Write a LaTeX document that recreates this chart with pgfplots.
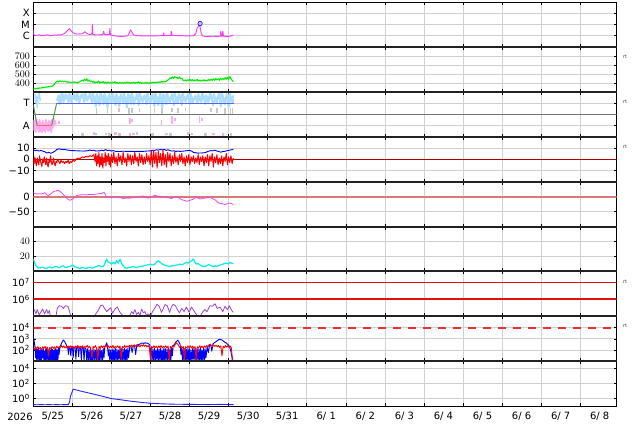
\documentclass[border=0pt]{standalone}
\usepackage{fontspec}
\setmainfont{DejaVu Sans}
\usepackage{pgfplots}
\pgfplotsset{compat=1.18}
\definecolor{gridgray}{HTML}{D0D0D0}
\definecolor{xmag}{HTML}{FF33FF}
\definecolor{swgreen}{HTML}{00EE00}
\definecolor{lblue}{HTML}{AADDFF}
\definecolor{lpink}{HTML}{FFAAEE}
\definecolor{lgray}{HTML}{C8C8C8}
\definecolor{secblue}{HTML}{5566EE}
\definecolor{secgreen}{HTML}{559955}
\definecolor{secred}{HTML}{FF6666}
\definecolor{dstmag}{HTML}{EE44EE}
\definecolor{salmon}{HTML}{D87878}
\definecolor{dcyan}{HTML}{00EEEE}
\definecolor{purp}{HTML}{A040D0}
\definecolor{darkred}{HTML}{AA0000}
\definecolor{refred}{HTML}{E01010}
\definecolor{dashred}{HTML}{E83030}
\definecolor{pblue}{HTML}{0000FF}
\definecolor{pred}{HTML}{FF0000}
\definecolor{sepgray}{HTML}{222222}
\pgfplotsset{
  panel/.style={
    scale only axis, width=583.2pt, height=44.9pt,
    anchor=south west,
    xmin=0, xmax=14.93,
    xtick={1,...,14}, xticklabels={},
    xmajorgrids, ymajorgrids,
    grid style={color=gridgray, line width=0.6pt},
    tick align=inside, major tick length=3pt,
    tick style={black, line width=0.5pt},
    axis line style={line width=0.6pt, black},
    yminorticks=false,
    clip mode=individual,
    unbounded coords=jump,
    yticklabel style={font=\fontsize{10}{12}\selectfont},
    every axis plot/.append style={line join=round},
  }
}
\begin{document}
\begin{tikzpicture}
\useasboundingbox (0pt,0pt) rectangle (634pt,424pt);

% ---------- Panel 1: X-ray ----------
\begin{axis}[panel, at={(33.3pt,377.1pt)},
  ymode=log, ymin=1e-7, ymax=1e-3,
  ytick={1e-6,1e-5,1e-4}, yticklabels={C,M,X}]
\addplot[xmag, line width=0.9pt] coordinates {
(0.00,3.3e-6)(0.01,1.2e-6)(0.05,1.05e-6)(0.10,1.1e-6)(0.15,1.2e-6)(0.20,1.0e-6)(0.25,1.1e-6)(0.30,1.05e-6)(0.35,1.2e-6)(0.40,1.1e-6)(0.45,1.0e-6)(0.50,1.1e-6)(0.55,1.15e-6)(0.60,1.1e-6)(0.65,1.2e-6)(0.70,1.15e-6)(0.75,1.3e-6)(0.80,1.6e-6)(0.85,2.3e-6)(0.90,3.5e-6)(0.93,4.2e-6)(0.97,2.6e-6)(1.02,1.8e-6)(1.07,1.5e-6)(1.12,1.4e-6)(1.18,1.45e-6)(1.24,1.4e-6)(1.28,1.7e-6)(1.32,2.3e-6)(1.35,1.8e-6)(1.40,1.4e-6)(1.45,1.3e-6)(1.50,1.4e-6)(1.51,9.7e-6)(1.525,1.3e-6)(1.60,1.2e-6)(1.70,1.2e-6)(1.78,1.25e-6)(1.80,2.5e-6)(1.82,1.3e-6)(1.90,1.25e-6)(1.95,1.3e-6)(1.96,4.5e-6)(1.975,1.2e-6)(2.05,1.0e-6)(2.15,0.9e-6)(2.25,0.85e-6)(2.35,0.9e-6)(2.42,1.0e-6)(2.46,1.8e-6)(2.49,3.3e-6)(2.52,2.2e-6)(2.56,1.2e-6)(2.65,1.0e-6)(2.80,0.95e-6)(2.95,0.95e-6)(3.10,0.95e-6)(3.25,1.0e-6)(3.33,1.0e-6)(3.34,1.8e-6)(3.35,1.0e-6)(3.45,1.0e-6)(3.52,1.05e-6)(3.53,2.5e-6)(3.55,1.1e-6)(3.65,1.0e-6)(3.80,1.0e-6)(3.95,0.95e-6)(4.10,1.0e-6)(4.16,1.5e-6)(4.19,4.2e-6)(4.22,6.5e-6)(4.25,8.5e-6)(4.27,6e-6)(4.30,1.5e-6)(4.33,1.0e-6)(4.40,0.85e-6)(4.50,0.85e-6)(4.60,0.9e-6)(4.70,0.85e-6)(4.79,0.9e-6)(4.80,2.5e-6)(4.82,0.9e-6)(4.84,0.9e-6)(4.85,2.5e-6)(4.87,0.9e-6)(4.95,0.85e-6)(5.05,0.9e-6)(5.09,1.1e-6)(5.12,1.0e-6)
};
\addplot[only marks, mark=*, mark size=2.2pt, mark options={draw=blue, fill=blue!20, line width=0.6pt}] coordinates {(4.27,1.2e-5)};
\end{axis}

% ---------- Panel 2: speed ----------
\begin{axis}[panel, at={(33.3pt,332.2pt)},
  ymin=300, ymax=800, ytick={400,500,600,700}]
\addplot[swgreen, line width=1.1pt] coordinates {
(0.00,330)(0.03,338)(0.06,333)(0.09,340)(0.12,336)(0.15,343)(0.18,340)(0.21,346)(0.24,344)(0.27,350)(0.30,348)(0.33,355)(0.36,352)(0.39,358)(0.42,356)(0.45,362)(0.48,360)(0.50,368)(0.53,380)(0.56,395)(0.59,412)(0.62,418)(0.65,410)(0.68,422)(0.71,415)(0.74,420)(0.77,412)(0.80,418)(0.83,410)(0.86,414)(0.89,405)(0.92,410)(0.95,404)(0.98,408)(1.01,402)(1.04,410)(1.07,404)(1.10,408)(1.13,400)(1.16,406)(1.19,412)(1.22,420)(1.25,430)(1.28,418)(1.31,440)(1.34,425)(1.37,445)(1.40,420)(1.43,432)(1.46,412)(1.49,420)(1.52,405)(1.55,415)(1.58,398)(1.61,412)(1.64,402)(1.67,420)(1.70,398)(1.73,410)(1.76,400)(1.79,415)(1.82,396)(1.85,408)(1.88,395)(1.91,410)(1.94,398)(1.97,405)(2.00,395)(2.03,408)(2.06,398)(2.09,412)(2.12,396)(2.15,405)(2.18,393)(2.21,402)(2.24,395)(2.27,404)(2.30,392)(2.33,406)(2.36,396)(2.39,410)(2.42,398)(2.45,405)(2.48,392)(2.51,402)(2.54,396)(2.57,408)(2.60,394)(2.63,404)(2.66,398)(2.69,412)(2.72,396)(2.75,405)(2.78,392)(2.81,400)(2.84,394)(2.87,404)(2.90,396)(2.93,402)(2.96,390)(2.99,402)(3.02,396)(3.05,408)(3.08,398)(3.11,406)(3.14,400)(3.17,410)(3.20,402)(3.23,412)(3.26,405)(3.29,415)(3.32,408)(3.35,418)(3.38,410)(3.41,420)(3.44,428)(3.47,440)(3.50,455)(3.53,448)(3.56,465)(3.59,450)(3.62,470)(3.65,455)(3.68,462)(3.71,448)(3.74,465)(3.77,445)(3.80,452)(3.83,430)(3.86,422)(3.89,432)(3.92,420)(3.95,435)(3.98,425)(4.01,440)(4.04,422)(4.07,436)(4.10,420)(4.13,432)(4.16,424)(4.19,438)(4.22,420)(4.25,430)(4.28,418)(4.31,428)(4.34,422)(4.37,434)(4.40,420)(4.43,430)(4.46,422)(4.49,438)(4.52,425)(4.55,440)(4.58,428)(4.61,445)(4.64,430)(4.67,448)(4.70,432)(4.73,445)(4.76,428)(4.79,452)(4.82,435)(4.85,450)(4.88,438)(4.91,458)(4.94,440)(4.97,462)(5.00,442)(5.03,470)(5.06,445)(5.09,428)(5.12,412)
};
\end{axis}

% ---------- Panel 3: sector T/A ----------
\begin{axis}[panel, at={(33.3pt,287.3pt)},
  ymin=-2, ymax=2, ytick={-1,1}, yticklabels={A,T}]
\addplot[lgray, line width=1.6pt] coordinates {
(1.62,0.6)(1.62,0.0)(1.62,nan)(1.90,0.6)(1.90,0.1)(1.90,nan)(2.20,0.6)(2.20,0.2)(2.20,nan)(2.45,0.6)(2.45,-0.1)(2.45,nan)(2.52,0.6)(2.52,0.1)(2.52,nan)(2.72,0.6)(2.72,0.2)(2.72,nan)(3.10,0.6)(3.10,0.1)(3.10,nan)(3.30,0.6)(3.30,0.0)(3.30,nan)(3.55,0.6)(3.55,0.2)(3.55,nan)(3.70,0.6)(3.70,0.1)(3.70,nan)(3.90,0.6)(3.90,0.3)(3.90,nan)(4.55,0.6)(4.55,0.2)(4.55,nan)(4.70,0.6)(4.70,0.1)(4.70,nan)(4.90,0.6)(4.90,-0.1)(4.90,nan)(5.05,0.6)(5.05,0.0)(5.05,nan)(5.10,0.6)(5.10,-0.1)
};
\addplot[only marks, mark=square*, mark size=0.8pt, lgray] coordinates {
(1.25,-1.8)(1.60,-1.75)(1.95,-1.8)(2.20,-1.8)(2.55,-1.75)(3.05,-1.8)(3.50,-1.8)(4.05,-1.75)(4.40,-1.8)(5.05,-1.8)
};
\addplot[lpink, line width=1.8pt] coordinates {
(0.00,-0.5)(0.02,-1.4)(0.04,-0.6)(0.06,-1.6)(0.08,-0.4)(0.10,-1.3)(0.12,-0.7)(0.14,-1.6)(0.16,-0.5)(0.18,-1.5)(0.20,-0.8)(0.22,-1.6)(0.24,-0.6)(0.26,-1.4)(0.28,-0.9)(0.30,-1.6)(0.32,-0.5)(0.34,-1.3)(0.36,-0.8)(0.38,-1.5)(0.40,-0.6)(0.42,-1.4)(0.44,-0.7)(0.46,-1.6)(0.48,-0.5)(0.50,-1.2)(0.52,-0.4)(0.54,-1.0)(0.56,-0.6)(0.58,-0.9)
};
\addplot[lpink, line width=1.6pt] coordinates {
(0.66,-0.6)(0.66,-0.9)(0.66,nan)(2.47,-0.3)(2.47,-0.9)(2.47,nan)(2.52,-0.4)(2.52,-0.7)(2.52,nan)(3.28,-0.5)(3.28,-1.0)(3.28,nan)(3.55,-0.2)(3.55,-0.9)(3.55,nan)(3.62,-0.3)(3.62,-0.6)(3.62,nan)(4.25,-0.2)(4.25,-0.8)(4.25,nan)(4.32,-0.3)(4.32,-0.6)
};
\addplot[only marks, mark=square*, mark size=0.8pt, lpink] coordinates {
(1.55,-1.7)(1.85,-1.75)(2.10,-1.7)(2.47,-1.8)(2.65,-1.7)(3.40,-1.75)(3.95,-1.7)(4.60,-1.75)(4.85,-1.8)
};
\addplot[lblue, line width=1.5pt] coordinates {
(0.04,1.8)(0.06,1.0)(0.08,1.6)(0.10,0.6)(0.12,1.4)(0.15,1.9)(0.18,1.2)
};
\addplot[lblue, line width=1.8pt] coordinates {
(0.60,1.2)(0.65,1.7)(0.70,1.0)(0.75,1.8)(0.80,1.3)(0.85,1.6)(0.90,1.1)(0.95,1.7)(1.00,1.3)(1.05,1.8)(1.10,1.2)(1.15,1.6)(1.20,1.4)(1.25,1.8)(1.30,1.1)(1.35,1.7)(1.40,1.3)(1.45,1.9)(1.50,1.0)(1.55,1.6)(1.60,0.7)(1.65,1.5)(1.70,0.8)(1.75,1.7)(1.80,0.9)(1.85,1.6)(1.90,0.6)(1.95,1.8)(2.00,1.0)(2.05,1.7)(2.10,0.8)(2.15,1.6)(2.20,0.7)(2.25,1.8)(2.30,1.0)(2.35,1.5)(2.40,0.6)(2.45,1.7)(2.50,0.9)(2.55,1.6)(2.60,1.2)(2.65,1.8)(2.70,0.8)(2.75,1.6)(2.80,1.1)(2.85,1.7)(2.90,0.9)(2.95,1.5)(3.00,1.0)(3.05,1.8)(3.10,0.7)(3.15,1.6)(3.20,0.8)(3.25,1.9)(3.30,0.6)(3.35,1.7)(3.40,0.9)(3.45,1.6)(3.50,1.0)(3.55,1.8)(3.60,0.8)(3.65,1.5)(3.70,1.0)(3.75,1.7)(3.80,0.8)(3.85,1.6)(3.90,1.1)(3.95,1.8)(4.00,0.9)(4.05,1.6)(4.10,1.2)(4.15,1.7)(4.20,1.0)(4.25,1.5)(4.30,1.1)(4.35,1.7)(4.40,0.9)(4.45,1.6)(4.50,1.2)(4.55,1.8)(4.60,0.8)(4.65,1.5)(4.70,1.0)(4.75,1.9)(4.80,0.7)(4.85,1.7)(4.90,0.9)(4.95,1.8)(5.00,0.6)(5.05,1.6)(5.10,1.0)(5.13,1.4)
};
\addplot[lblue, line width=1.8pt] coordinates {
(0.625,1.5)(0.675,0.9)(0.725,1.9)(0.775,1.1)(0.825,1.8)(0.875,1.4)(0.925,1.9)(0.975,1.0)(1.025,1.6)(1.075,1.3)(1.125,1.9)(1.175,1.0)(1.225,1.7)(1.275,1.5)(1.325,1.9)(1.375,1.2)(1.425,1.6)(1.475,1.4)(1.525,1.9)(1.575,1.1)(1.625,1.8)(1.675,1.2)(1.725,1.9)(1.775,1.3)(1.825,1.8)(1.875,1.0)(1.925,1.6)(1.975,1.4)(2.025,1.9)(2.075,1.1)(2.125,1.8)(2.175,1.3)(2.225,1.6)(2.275,1.2)(2.325,1.9)(2.375,1.0)(2.425,1.8)(2.475,1.3)(2.525,1.9)(2.575,0.9)(2.625,1.5)(2.675,1.3)(2.725,1.9)(2.775,1.2)(2.825,1.6)(2.875,1.4)(2.925,1.9)(2.975,1.1)(3.025,1.6)(3.075,1.3)(3.125,1.9)(3.175,1.2)(3.225,1.6)(3.275,1.1)(3.325,1.8)(3.375,1.3)(3.425,1.9)(3.475,1.2)(3.525,1.6)(3.575,1.4)(3.625,1.9)(3.675,1.1)(3.725,1.8)(3.775,1.3)(3.825,1.9)(3.875,1.2)(3.925,1.6)(3.975,1.4)(4.025,1.9)(4.075,1.0)(4.125,1.5)(4.175,1.3)(4.225,1.8)(4.275,1.2)(4.325,1.9)(4.375,1.4)(4.425,1.7)(4.475,1.1)(4.525,1.9)(4.575,1.3)(4.625,1.8)(4.675,1.2)(4.725,1.6)(4.775,1.4)(4.825,1.9)(4.875,1.1)(4.925,1.5)(4.975,1.3)(5.025,1.9)(5.075,1.2)(5.125,1.7)
};
\addplot[color=black!55, line width=0.7pt] coordinates {(0,0)(15,0)};
\addplot[secgreen, line width=1pt] coordinates {(0,0.85)(0.10,-1)};
\addplot[secred, line width=1pt] coordinates {(0.10,-1)(0.47,-1)};
\addplot[secgreen, line width=1pt] coordinates {(0.47,-1)(0.60,1)};
\addplot[secblue, line width=1pt] coordinates {(0.60,1)(5.13,1)};
\end{axis}

% ---------- Panel 4: Bt / Bz ----------
\begin{axis}[panel, at={(33.3pt,242.4pt)},
  ymin=-20, ymax=20, ytick={-10,0,10}, yticklabels={−10,0,10}]
\addplot[darkred, line width=0.9pt] coordinates {(0,0)(15,0)};
\addplot[pblue, line width=0.9pt] coordinates {
(0.00,8.5)(0.05,7.5)(0.10,8.0)(0.15,7.2)(0.20,7.8)(0.25,7.0)(0.30,6.5)(0.35,5.5)(0.40,6.0)(0.45,5.2)(0.50,6.0)(0.55,7.0)(0.60,8.5)(0.65,9.2)(0.70,8.8)(0.75,8.6)(0.80,8.8)(0.85,8.2)(0.90,8.0)(0.95,7.8)(1.00,7.6)(1.10,7.5)(1.20,7.3)(1.30,7.2)(1.40,7.5)(1.45,8.2)(1.50,7.5)(1.55,8.0)(1.60,7.2)(1.70,7.4)(1.75,8.0)(1.80,7.4)(1.85,8.6)(1.90,7.6)(1.95,8.0)(2.00,7.2)(2.05,7.6)(2.10,7.0)(2.20,6.8)(2.30,7.1)(2.40,6.9)(2.50,7.0)(2.60,6.8)(2.70,7.0)(2.80,6.9)(2.90,7.2)(3.00,7.4)(3.05,8.0)(3.10,7.6)(3.15,8.4)(3.20,8.0)(3.25,8.6)(3.30,8.2)(3.35,8.8)(3.40,7.8)(3.45,8.4)(3.50,7.6)(3.55,7.2)(3.60,7.4)(3.65,6.8)(3.70,7.2)(3.75,6.9)(3.80,7.0)(3.90,7.4)(4.00,7.8)(4.05,7.2)(4.10,6.0)(4.15,5.8)(4.20,5.4)(4.30,5.5)(4.40,5.8)(4.45,6.6)(4.50,7.2)(4.55,7.6)(4.60,7.4)(4.65,8.0)(4.70,7.2)(4.75,6.8)(4.80,6.2)(4.85,6.8)(4.90,7.0)(4.95,7.4)(5.00,7.8)(5.05,8.2)(5.10,8.6)(5.12,8.8)
};
\addplot[pred, line width=1pt] coordinates {
(0.00,-1)(0.02,-4)(0.04,2)(0.06,-3)(0.08,-6)(0.10,1)(0.12,-2)(0.14,-5)(0.16,3)(0.18,-1)(0.20,-4)(0.22,-6.5)(0.24,0)(0.26,-3)(0.28,2)(0.30,-2)(0.32,-5)(0.34,1)(0.36,-4)(0.38,-7)(0.40,-1)(0.42,-3)(0.44,3)(0.46,-2)(0.48,-5)(0.50,-3)(0.52,1)(0.54,-4)(0.56,-6)(0.58,-2)(0.60,-3)(0.62,0)(0.65,-2)(0.68,-4)(0.71,-1)(0.74,-3)(0.77,-2)(0.80,-4)(0.83,-2)(0.86,-3)(0.89,-1)(0.92,-4)(0.95,-2)(0.98,-3)(1.01,-1)(1.05,-2)(1.10,0)(1.15,1)(1.20,0.5)(1.25,2)(1.30,1.5)(1.35,2.5)(1.40,2)(1.45,3)(1.50,2.5)(1.55,4)(1.58,-2)(1.60,5)(1.62,-6)(1.64,3)(1.66,-4)(1.68,6)(1.70,-7)(1.72,2)(1.74,-5)(1.76,5)(1.78,-8)(1.80,1)(1.82,-3)(1.84,6)(1.86,-6)(1.88,3)(1.90,-2)(1.92,5)(1.94,-5)(1.96,2)(1.98,-7)(2.00,4)(2.03,-3)(2.06,6)(2.09,-4)(2.12,2)(2.15,-6)(2.18,5)(2.21,-2)(2.24,3)(2.27,-5)(2.30,6)(2.33,-3)(2.36,1)(2.39,-6)(2.42,5)(2.45,-2)(2.48,4)(2.51,-5)(2.54,3)(2.57,-4)(2.60,6)(2.63,-2)(2.66,2)(2.69,-6)(2.72,5)(2.75,-3)(2.78,4)(2.81,-5)(2.84,2)(2.87,-4)(2.90,5)(2.93,-2)(2.96,3)(2.99,-5)(3.02,7)(3.05,-7)(3.08,8)(3.11,-4)(3.14,6)(3.17,-8)(3.20,7)(3.23,-3)(3.26,5)(3.29,-6)(3.32,8)(3.35,-5)(3.38,4)(3.41,-7)(3.44,6)(3.47,-2)(3.50,5)(3.53,-6)(3.56,3)(3.59,-4)(3.62,6)(3.65,-3)(3.68,2)(3.71,-5)(3.74,4)(3.77,-2)(3.80,5)(3.83,-4)(3.86,2)(3.89,-6)(3.92,3)(3.95,-3)(3.98,4)(4.01,-5)(4.04,2)(4.07,-2)(4.10,3)(4.13,-4)(4.16,1)(4.19,-3)(4.22,4)(4.25,-5)(4.28,2)(4.31,-2)(4.34,3)(4.37,-6)(4.40,2)(4.43,-3)(4.46,4)(4.49,-6)(4.52,3)(4.55,-2)(4.58,5)(4.61,-7)(4.64,2)(4.67,-3)(4.70,4)(4.73,-5)(4.76,1)(4.79,-4)(4.82,3)(4.85,-6)(4.88,2)(4.91,-2)(4.94,5)(4.97,-5)(5.00,2)(5.03,-3)(5.06,3)(5.09,-4)(5.12,1)
};
\end{axis}

% ---------- Panel 5: Dst ----------
\begin{axis}[panel, at={(33.3pt,197.5pt)},
  ymin=-100, ymax=50, ytick={-50,0}, yticklabels={−50,0}]
\addplot[salmon, line width=2pt] coordinates {(0,0)(15,0)};
\addplot[dstmag, line width=0.8pt] coordinates {
(0,12.9)(0.04,10)(0.085,8.6)(0.15,9.5)(0.21,8.6)(0.26,11)(0.30,12.9)(0.34,7)(0.38,2.1)(0.44,8)(0.51,16.1)(0.58,19)(0.64,21.4)(0.68,18)(0.725,12.9)(0.79,4)(0.85,-5.3)(0.90,-10)(0.94,-12.7)(0.98,-10)(1.02,-7.4)(1.06,-2)(1.11,3.3)(1.2,5.5)(1.28,6.5)(1.36,5.5)(1.45,7.5)(1.53,7)(1.62,8.6)(1.68,9.5)(1.75,10.7)(1.81,13.9)(1.84,8)(1.88,-2.1)(1.94,-1.5)(2.0,-2.1)(2.1,-1)(2.22,-2.1)(2.26,-5)(2.30,-7.4)(2.38,-5)(2.47,-5.3)(2.55,-3.5)(2.645,-2.1)(2.72,0.5)(2.82,2.1)(2.88,-2)(2.94,-5.3)(3.02,-1)(3.11,4.3)(3.17,2)(3.24,0)(3.33,-1.5)(3.41,-3.2)(3.48,-4.5)(3.54,-6.4)(3.60,-3)(3.67,0)(3.74,-5)(3.80,-10.6)(3.87,-13)(3.93,-16)(4.0,-13)(4.10,-8.5)(4.18,-2.1)(4.22,-5)(4.27,-8.5)(4.33,-6)(4.39,-5.3)(4.45,-4)(4.52,-3.2)(4.58,-6)(4.65,-10.6)(4.70,-16)(4.74,-21.3)(4.82,-23.5)(4.87,-25)(4.91,-26.7)(4.96,-24)(5.03,-21.3)(5.08,-24)(5.12,-26.7)
};
\end{axis}

% ---------- Panel 6: density ----------
\begin{axis}[panel, at={(33.3pt,152.6pt)},
  ymin=0, ymax=60, ytick={20,40}]
\addplot[dcyan, line width=1.2pt] coordinates {
(0,16.4)(0.03,12)(0.06,8)(0.085,6.6)(0.12,4.5)(0.17,4.5)(0.21,5.5)(0.26,5.3)(0.30,4.2)(0.34,4.0)(0.38,5.5)(0.43,6.0)(0.47,4.5)(0.51,5.0)(0.55,6.5)(0.60,6.6)(0.64,5)(0.68,5.3)(0.72,7)(0.77,7.5)(0.81,5.5)(0.85,5.3)(0.90,6.5)(0.94,6.6)(0.98,7.5)(1.02,8.4)(1.06,6)(1.11,5.3)(1.15,4.5)(1.20,4.0)(1.24,5)(1.28,5.3)(1.32,4.2)(1.36,4.0)(1.40,5)(1.45,5.3)(1.49,4.5)(1.53,4.5)(1.58,6)(1.62,6.6)(1.66,7.5)(1.70,7.5)(1.75,6)(1.79,6.6)(1.83,10)(1.86,14)(1.88,16.4)(1.92,12)(1.96,11.7)(2.00,9.7)(2.05,12)(2.09,10)(2.13,14.6)(2.17,11)(2.22,16.4)(2.26,11)(2.30,7.5)(2.34,5)(2.39,4.0)(2.43,5)(2.47,5.3)(2.52,6)(2.56,6.6)(2.60,5.5)(2.65,5.3)(2.69,6)(2.73,6.6)(2.78,7)(2.82,7.5)(2.86,8)(2.90,8.4)(2.95,9)(3.0,9.7)(3.05,8.4)(3.11,9.7)(3.16,12.5)(3.20,14.2)(3.25,12)(3.30,9.7)(3.36,8.4)(3.41,7.5)(3.45,7)(3.50,6.6)(3.54,7.5)(3.58,7.5)(3.62,8)(3.67,8.4)(3.71,9)(3.75,9.7)(3.80,9)(3.84,9.7)(3.88,11)(3.93,12)(3.97,11)(4.01,12.8)(4.05,14)(4.10,16.4)(4.14,12)(4.18,9.7)(4.22,10.5)(4.27,8.4)(4.31,7.5)(4.35,6.6)(4.40,7)(4.44,7.5)(4.48,9)(4.52,8.4)(4.56,7.5)(4.61,6.6)(4.65,7.5)(4.69,6.6)(4.73,7.5)(4.78,8.4)(4.82,9)(4.86,9.7)(4.90,11)(4.95,11)(4.99,10)(5.03,12)(5.08,11)(5.12,10.5)
};
\end{axis}

% ---------- Panel 7 ----------
\begin{axis}[panel, at={(33.3pt,107.7pt)},
  ymode=log, ymin=1e5, ymax=4.47e7, ymajorgrids=false,
  ytick={1e6,1e7}, yticklabels={10\textsuperscript{6},10\textsuperscript{7}}]
\addplot[refred, line width=1.6pt] coordinates {(0,1.02e6)(15,1.02e6)};
\addplot[refred, line width=1.5pt] coordinates {(0,1e7)(15,1e7)};
\addplot[purp, line width=0.8pt] coordinates {
(0.017,2.7e5)(0.068,1.4e5)(0.10,2.5e5)(0.154,1.2e5)(0.19,1.7e5)(0.24,2.7e5)(0.29,1.4e5)(0.34,2.5e5)(0.375,1.5e5)(0.41,2.2e5)(0.44,1.0e5)(0.51,8e4)(0.58,1.0e5)(0.614,2.9e5)(0.665,4.2e5)(0.725,3.9e5)(0.768,2.9e5)(0.82,4.2e5)(0.887,3.9e5)(0.92,2.2e5)(0.956,1.1e5)(0.99,7e4)(1.536,7e4)(1.60,1.4e5)(1.664,2.2e5)(1.72,4.2e5)(1.775,4.6e5)(1.826,2.9e5)(1.877,1.9e5)(1.93,2.5e5)(1.98,3.2e5)(2.03,1.5e5)(2.09,2.7e5)(2.15,3.5e5)(2.22,1.7e5)(2.29,1.1e5)(2.35,1.0e5)(2.41,1.1e5)(2.46,1.0e5)(2.52,1.9e5)(2.56,1.4e5)(2.60,2.5e5)(2.645,1.3e5)(2.69,1.7e5)(2.73,1.1e5)(2.77,2.7e5)(2.82,1.6e5)(2.86,1.9e5)(2.90,1.1e5)(2.94,1.4e5)(3.00,1.1e5)(3.07,2.2e5)(3.12,3.3e5)(3.165,5.1e5)(3.225,3.9e5)(3.28,1.7e5)(3.33,2.9e5)(3.37,4.9e5)(3.43,4.2e5)(3.49,1.7e5)(3.53,3.3e5)(3.58,5.1e5)(3.64,4.2e5)(3.69,2.5e5)(3.74,1.6e5)(3.80,2.9e5)(3.86,1.9e5)(3.92,3.5e5)(3.99,1.7e5)(4.05,3.5e5)(4.11,2.2e5)(4.16,1.4e5)(4.22,1.0e5)(4.28,1.1e5)(4.33,1.7e5)(4.39,2.5e5)(4.45,1.9e5)(4.52,4.2e5)(4.59,3.9e5)(4.65,5.5e5)(4.71,2.9e5)(4.78,3.5e5)(4.85,1.9e5)(4.91,3.9e5)(4.97,2.5e5)(5.02,4.2e5)(5.08,2.2e5)(5.12,1.7e5)
};
\end{axis}

% ---------- Panel 8 ----------
\begin{axis}[panel, at={(33.3pt,62.8pt)},
  ymode=log, ymin=10, ymax=1e5,
  ytick={100,1000,10000}, yticklabels={10\textsuperscript{2},10\textsuperscript{3},10\textsuperscript{4}}]
\addplot[dashred, line width=2pt, dash pattern=on 8pt off 7pt] coordinates {(0,1e4)(15,1e4)};
\addplot[pblue, line width=0.9pt] coordinates {
(0,1800)(0.015,900)(0.03,400)(0.045,150)(0.06,20)(0.075,130)(0.09,9)(0.105,110)(0.12,15)(0.135,140)(0.15,9)(0.165,90)(0.18,12)(0.195,130)(0.21,9)(0.225,100)(0.24,20)(0.255,150)(0.27,9)(0.285,80)(0.30,11)(0.315,120)(0.33,9)(0.345,140)(0.36,15)(0.375,90)(0.39,9)(0.405,120)(0.42,10)(0.435,100)(0.45,9)(0.465,130)(0.48,14)(0.495,110)(0.51,9)(0.525,90)(0.54,10)(0.555,140)(0.57,9)(0.585,120)(0.60,13)(0.615,100)(0.63,9)(0.645,150)(0.66,40)(0.68,200)(0.71,300)(0.74,550)(0.77,760)(0.80,600)(0.83,350)(0.86,220)(0.88,180)(0.90,40)(0.92,190)(0.94,160)(0.96,30)(0.98,180)(1.00,200)(1.02,20)(1.04,170)(1.07,190)(1.09,15)(1.11,160)(1.14,200)(1.16,25)(1.18,180)(1.21,150)(1.23,12)(1.25,170)(1.28,140)(1.30,10)(1.32,160)(1.35,120)(1.37,9)(1.39,130)(1.41,12)(1.43,100)(1.45,9)(1.47,140)(1.49,10)(1.51,90)(1.53,9)(1.55,120)(1.57,14)(1.59,100)(1.61,9)(1.63,130)(1.65,10)(1.67,110)(1.69,9)(1.71,150)(1.73,12)(1.75,90)(1.77,9)(1.79,140)(1.81,20)(1.83,200)(1.86,300)(1.88,440)(1.90,200)(1.92,30)(1.94,120)(1.96,9)(1.98,100)(2.00,9)(2.02,130)(2.04,12)(2.06,110)(2.08,9)(2.10,140)(2.12,10)(2.14,120)(2.16,9)(2.18,100)(2.20,15)(2.22,150)(2.24,9)(2.26,130)(2.28,10)(2.30,110)(2.32,9)(2.34,140)(2.36,12)(2.38,120)(2.40,9)(2.42,150)(2.44,20)(2.47,200)(2.50,230)(2.53,60)(2.56,250)(2.59,280)(2.62,40)(2.65,260)(2.68,300)(2.71,320)(2.74,350)(2.77,400)(2.80,420)(2.83,380)(2.86,440)(2.89,400)(2.92,420)(2.95,350)(2.98,300)(3.00,50)(3.02,150)(3.04,9)(3.06,120)(3.08,11)(3.10,140)(3.12,9)(3.14,100)(3.16,15)(3.18,130)(3.20,9)(3.22,120)(3.24,10)(3.26,150)(3.28,9)(3.30,100)(3.32,12)(3.34,140)(3.36,9)(3.38,130)(3.40,10)(3.42,110)(3.44,9)(3.46,150)(3.48,15)(3.50,120)(3.52,9)(3.54,140)(3.56,30)(3.58,250)(3.61,300)(3.64,450)(3.67,600)(3.70,760)(3.73,500)(3.76,300)(3.78,40)(3.80,150)(3.82,9)(3.84,120)(3.86,10)(3.88,140)(3.90,9)(3.92,110)(3.94,12)(3.96,150)(3.98,9)(4.00,130)(4.02,10)(4.04,100)(4.06,9)(4.08,140)(4.10,15)(4.12,120)(4.14,9)(4.16,150)(4.18,10)(4.20,110)(4.22,9)(4.24,130)(4.26,12)(4.28,140)(4.30,9)(4.32,100)(4.34,10)(4.36,150)(4.38,9)(4.40,120)(4.42,20)(4.45,200)(4.48,60)(4.51,250)(4.54,300)(4.57,80)(4.60,350)(4.63,440)(4.66,500)(4.69,600)(4.72,700)(4.75,850)(4.78,900)(4.81,800)(4.84,750)(4.87,600)(4.90,500)(4.93,440)(4.96,350)(4.99,300)(5.02,200)(5.05,100)(5.08,30)(5.10,9)
};
\addplot[pred, line width=0.9pt] coordinates {
(0.00,150)(0.03,110)(0.06,180)(0.09,130)(0.12,200)(0.15,120)(0.18,170)(0.21,100)(0.24,190)(0.27,140)(0.30,210)(0.33,120)(0.36,180)(0.39,30)(0.42,170)(0.45,130)(0.48,200)(0.51,140)(0.54,190)(0.57,120)(0.60,220)(0.63,150)(0.66,200)(0.69,160)(0.72,250)(0.75,170)(0.78,230)(0.81,150)(0.84,210)(0.87,140)(0.90,220)(0.93,160)(0.96,240)(0.99,150)(1.02,210)(1.05,130)(1.08,220)(1.11,170)(1.14,250)(1.17,150)(1.20,220)(1.23,160)(1.26,240)(1.29,140)(1.32,210)(1.35,170)(1.38,260)(1.41,150)(1.44,220)(1.47,130)(1.50,20)(1.53,200)(1.56,160)(1.59,250)(1.62,140)(1.65,12)(1.68,210)(1.71,150)(1.74,240)(1.77,160)(1.80,230)(1.83,170)(1.86,270)(1.89,180)(1.92,240)(1.95,150)(1.98,220)(2.01,160)(2.04,250)(2.07,140)(2.10,210)(2.13,170)(2.16,240)(2.19,150)(2.22,230)(2.25,15)(2.28,200)(2.31,160)(2.34,250)(2.37,170)(2.40,230)(2.43,180)(2.46,260)(2.49,200)(2.52,280)(2.55,190)(2.58,270)(2.61,210)(2.64,290)(2.67,200)(2.70,260)(2.73,190)(2.76,280)(2.79,220)(2.82,300)(2.85,210)(2.88,270)(2.91,190)(2.94,250)(2.97,170)(3.00,12)(3.03,200)(3.06,150)(3.09,240)(3.12,160)(3.15,220)(3.18,140)(3.21,230)(3.24,160)(3.27,250)(3.30,150)(3.33,210)(3.36,170)(3.39,240)(3.42,150)(3.45,220)(3.48,10)(3.51,200)(3.54,160)(3.57,250)(3.60,180)(3.63,300)(3.66,440)(3.69,350)(3.72,250)(3.75,170)(3.78,230)(3.81,150)(3.84,200)(3.87,10)(3.90,190)(3.93,150)(3.96,230)(3.99,160)(4.02,240)(4.05,150)(4.08,220)(4.11,140)(4.14,200)(4.17,12)(4.20,190)(4.23,150)(4.26,240)(4.29,160)(4.32,220)(4.35,150)(4.38,230)(4.41,170)(4.44,250)(4.47,180)(4.50,300)(4.53,330)(4.56,250)(4.59,200)(4.62,280)(4.65,210)(4.68,260)(4.71,190)(4.74,250)(4.77,170)(4.80,230)(4.83,30)(4.86,210)(4.89,160)(4.92,250)(4.95,180)(4.98,240)(5.01,170)(5.04,220)(5.07,150)(5.09,30)(5.11,10)
};
\end{axis}

% ---------- Panel 9 ----------
\begin{axis}[panel, at={(33.3pt,17.9pt)},
  ymode=log, ymin=0.1, ymax=1e5,
  ytick={1,100,10000}, yticklabels={10\textsuperscript{0},10\textsuperscript{2},10\textsuperscript{4}},
  extra x ticks={0.5,1.5,...,14.5},
  extra x tick labels={5/25,5/26,5/27,5/28,5/29,5/30,5/31,6/ 1,6/ 2,6/ 3,6/ 4,6/ 5,6/ 6,6/ 7,6/ 8},
  extra x tick style={major tick length=0pt, grid=none},
  xticklabel style={font=\fontsize{10}{12}\selectfont, yshift=-2pt}]
\addplot[blue!85!white, line width=0.9pt] coordinates {
(0,0.16)(0.1,0.15)(0.2,0.16)(0.3,0.15)(0.4,0.16)(0.5,0.15)(0.6,0.16)(0.7,0.15)(0.8,0.16)(0.9,0.16)(0.93,0.4)(0.95,2)(0.98,5)(1.00,10)(1.02,19)(1.05,17)(1.2,10.5)(1.4,6)(1.6,3.4)(1.8,1.9)(1.97,1.1)(2.0,1.0)(2.2,0.75)(2.5,0.45)(2.8,0.3)(3.0,0.24)(3.3,0.2)(3.6,0.18)(4.0,0.17)(4.5,0.16)(4.8,0.17)(5.0,0.16)(5.13,0.16)
};
\end{axis}

% separators
\foreach \yy in {377.1,332.2,287.3,242.4,197.5,152.6,107.7,62.8}{
  \draw[sepgray, line width=2pt] (33.3pt,\yy pt) -- (616.5pt,\yy pt);
}
\node[anchor=base, font=\fontsize{10}{12}\selectfont] at (20pt,4pt) {2026};
\foreach \yy in {367,322.3,277.3,142,98}{
  \node[font=\fontsize{5}{6}\selectfont, text=black!75, inner sep=0pt] at (625pt,\yy pt) {rt};
}
\end{tikzpicture}
\end{document}
